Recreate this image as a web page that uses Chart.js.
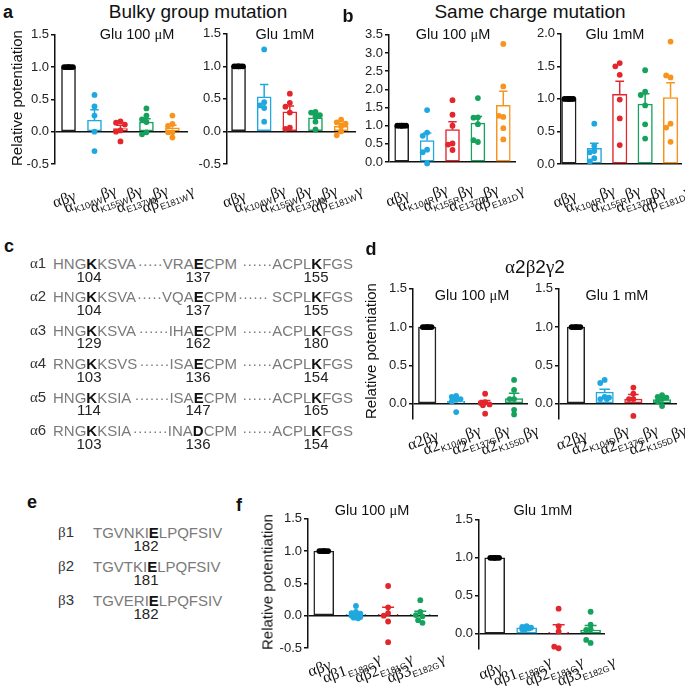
<!DOCTYPE html>
<html>
<head>
<meta charset="utf-8">
<script src="https://cdn.jsdelivr.net/npm/chart.js@4"></script>
<style>
body{margin:0;background:#fff;width:685px;height:693px;position:relative;overflow:hidden;font-family:'Liberation Sans',Arial,sans-serif;color:#111}
.t{position:absolute;white-space:nowrap}
.g{font-family:'Liberation Serif',serif}
canvas{position:absolute}
.seq{color:#7a7a7a;font-size:15px}
.seq b{color:#111}
</style>
</head>
<body>
<script>
// colours of the groups (control, then mutants)
const groupColors = ['#222222', '#1fa8e0', '#e3262c', '#15a25c', '#f7941d'];

// a - bulky group mutation
const bulkyLabels = [['αβγ'], ['α','K104W','βγ'], ['α','K155W','βγ'], ['α','E137W','βγ'], ['αβ','E181W','γ']];
const bulky100Mean = [1.0, 0.18, 0.05, 0.15, 0.06];
const bulky100Sem = [0, 0.16, 0.05, 0.05, 0.04];
const bulky100Pts = [
  [1, 1, 1, 1, 1, 1],
  [0.57, 0.39, 0.25, 0.0, -0.30],
  [0.16, 0.14, 0.11, 0.02, 0.0, -0.15],
  [0.36, 0.25, 0.19, 0.15, -0.01, -0.04],
  [0.25, 0.12, 0.09, -0.01, -0.01, -0.09]
];
const bulky1mMean = [1.0, 0.53, 0.30, 0.21, 0.08];
const bulky1mSem = [0, 0.19, 0.09, 0.05, 0.04];
const bulky1mPts = [
  [1, 1, 1, 1, 1, 1],
  [1.26, 0.45, 0.40, 0.36, 0.15],
  [0.58, 0.44, 0.38, 0.29, 0.06, 0.04],
  [0.30, 0.29, 0.25, 0.23, 0.15, 0.03],
  [0.18, 0.14, 0.12, 0.08, 0.0, -0.06]
];

// b - same charge mutation
const chargeLabels = [['αβγ'], ['α','K104R','βγ'], ['α','K155R','βγ'], ['α','E137D','βγ'], ['αβ','E181D','γ']];
const charge100Mean = [1.0, 0.59, 0.89, 1.07, 1.56];
const charge100Sem = [0, 0.21, 0.22, 0.18, 0.39];
const charge100Pts = [
  [1, 1, 1, 1, 1, 1],
  [1.43, 0.81, 0.72, 0.34, 0.27, -0.04],
  [1.70, 1.30, 1.00, 0.51, 0.48, 0.33],
  [1.76, 1.23, 1.22, 1.04, 0.55, 0.60],
  [3.25, 2.08, 1.24, 1.27, 0.93, 0.62]
];
const charge1mMean = [1.0, 0.24, 1.07, 0.92, 1.02];
const charge1mSem = [0, 0.08, 0.20, 0.16, 0.23];
const charge1mPts = [
  [1, 1, 1, 1, 1, 1],
  [0.62, 0.28, 0.20, 0.18, 0.09, 0.04],
  [1.55, 1.50, 1.37, 0.99, 0.70, 0.29],
  [1.44, 1.11, 1.06, 0.90, 0.61, 0.39],
  [1.88, 1.33, 1.36, 0.62, 0.56, 0.34]
];

// d - alpha2 beta2 gamma2
const a2Labels = [['α2βγ'], ['α2','K104D','βγ'], ['α2','E137G','βγ'], ['α2','K155D','βγ']];
const a2_100Mean = [1.0, 0.03, 0.0, 0.065];
const a2_100Sem = [0, 0.03, 0.04, 0.07];
const a2_100Pts = [
  [1, 1, 1, 1, 1, 1],
  [0.10, 0.09, 0.06, 0.05, 0.03, -0.11],
  [0.13, 0.02, 0.01, -0.01, -0.02, -0.13],
  [0.31, 0.18, 0.06, 0.06, -0.08, -0.14]
];
const a2_1mMean = [1.0, 0.15, 0.06, 0.055];
const a2_1mSem = [0, 0.04, 0.06, 0.02];
const a2_1mPts = [
  [1, 1, 1, 1, 1, 1],
  [0.31, 0.27, 0.09, 0.06, 0.08, 0.06],
  [0.21, 0.13, 0.06, 0.06, -0.16],
  [0.11, 0.09, 0.08, 0.06, 0.03, -0.03]
];

// f - beta subunit mutation
const betaLabels = [['αβγ'], ['αβ1','E182G','γ'], ['αβ2','E181G','γ'], ['αβ3','E182G','γ']];
const beta100Mean = [1.0, 0.02, 0.02, 0.02];
const beta100Sem = [0, 0.02, 0.11, 0.05];
const beta100Pts = [
  [1, 1, 1, 1, 1, 1],
  [0.15, 0.06, 0.04, 0.03, 0.01, 0.0, -0.02, -0.03, -0.04],
  [0.46, 0.13, 0.04, 0.0, -0.09, -0.41],
  [0.24, 0.06, 0.01, -0.01, -0.07, -0.11]
];
const beta1mMean = [1.0, 0.08, 0.02, 0.05];
const beta1mSem = [0, 0.01, 0.10, 0.06];
const beta1mPts = [
  [1, 1, 1, 1, 1, 1],
  [0.10, 0.09, 0.08, 0.08, 0.07, 0.07, 0.06, 0.05],
  [0.33, 0.10, 0.03, -0.19, -0.17],
  [0.29, 0.12, 0.06, 0.05, -0.12, -0.08]
];

// sequence alignments (c, e)
const alphaSeqs = [
  ['α1', 'HNG', 'K', 'KSVA', '·····VRA', 'E', 'CPM', '······ACPL', 'K', 'FGS', '104', '137', '155'],
  ['α2', 'HNG', 'K', 'KSVA', '·····VQA', 'E', 'CPM', '······ SCPL', 'K', 'FGS', '104', '137', '155'],
  ['α3', 'HNG', 'K', 'KSVA', '······IHA', 'E', 'CPM', '······ACPL', 'K', 'FGS', '129', '162', '180'],
  ['α4', 'RNG', 'K', 'KSVS', '······ISA', 'E', 'CPM', '······ACPL', 'K', 'FGS', '103', '136', '154'],
  ['α5', 'HNG', 'K', 'KSIA', '·······ISA', 'E', 'CPM', '······ACPL', 'K', 'FGS', '114', '147', '165'],
  ['α6', 'RNG', 'K', 'KSIA', '·······INA', 'D', 'CPM', '······ACPL', 'K', 'FGS', '103', '136', '154']
];
const betaSeqs = [
  ['β1', 'TGVNKI', 'E', 'LPQFSIV', '182'],
  ['β2', 'TGVTKI', 'E', 'LPQFSIV', '181'],
  ['β3', 'TGVERI', 'E', 'LPQFSIV', '182']
];

// ---------- helpers ----------
function place(html, x, y, style, anchor){
  const d = document.createElement('div');
  d.className = 't';
  d.innerHTML = html;
  d.style.left = x + 'px';
  d.style.top = y + 'px';
  d.style.transform = anchor || 'translate(-50%,-50%)';
  Object.assign(d.style, style || {});
  document.body.appendChild(d);
  return d;
}

// error bar (mean + SEM) drawn on top of the bars
const semBars = {
  id: 'semBars',
  afterDatasetDraw(chart, args){
    const ds = chart.data.datasets[args.index];
    if(!ds.sem) return;
    const ctx = chart.ctx, ys = chart.scales.y;
    ctx.save();
    ctx.lineWidth = 1.5;
    args.meta.data.forEach((bar, i) => {
      const s = ds.sem[i];
      if(!s) return;
      const top = ys.getPixelForValue(ds.data[i].y + s);
      const half = bar.width * 0.3;
      ctx.strokeStyle = ds.borderColor[i];
      ctx.beginPath();
      ctx.moveTo(bar.x, bar.y); ctx.lineTo(bar.x, top);
      ctx.moveTo(bar.x - half, top); ctx.lineTo(bar.x + half, top);
      ctx.stroke();
    });
    ctx.restore();
  }
};

// rotated category labels with subscripts
const subLabels = {
  id: 'subLabels',
  afterDraw(chart, args, opts){
    if(!opts.labels) return;
    const ctx = chart.ctx, xs = chart.scales.x;
    const mainFont = "16px 'Liberation Serif'";
    const subFont = "9px 'Liberation Sans'";
    opts.labels.forEach((parts, i) => {
      let w = 0;
      const segs = parts.map((t, k) => {
        const sub = k % 2 === 1;
        ctx.font = sub ? subFont : mainFont;
        const mw = ctx.measureText(t).width + (sub ? 1 : 0);
        w += mw;
        return { t, sub, mw };
      });
      ctx.save();
      ctx.translate(xs.getPixelForValue(i) + opts.dx, chart.chartArea.bottom + opts.dy);
      ctx.rotate(-opts.angle * Math.PI / 180);
      ctx.fillStyle = '#111';
      let x = -w / 2;
      segs.forEach(s => {
        ctx.font = s.sub ? subFont : mainFont;
        ctx.fillText(s.t, x + (s.sub ? 0.5 : 0), s.sub ? 7 : 4);
        x += s.mw;
      });
      ctx.restore();
    });
  }
};

// spread points sideways when they overlap (small beeswarm, in pixels)
function swarm(groups, pxX, pxY){
  const out = [];
  const cand = [0, -2.2, 2.2, -4.4, 4.4];
  groups.forEach((vals, g) => {
    const placed = [];
    vals.forEach(v => {
      let best = 0, bestD = -1;
      for(const o of cand){
        const d = placed.length ? Math.min(...placed.map(p => Math.hypot(p.o - o, (p.v - v) * pxY))) : 99;
        if(d >= 4.6){ best = o; bestD = d; break; }
        if(d > bestD){ best = o; bestD = d; }
      }
      placed.push({ o: best, v });
      out.push({ x: g + best / pxX, y: v, c: g });
    });
  });
  return out;
}

function makeChart(L, labels, means, sems, pts){
  const cv = document.createElement('canvas');
  const left = Math.round(L.axisX) - 40, top = Math.round(L.top) - 8;
  const w = Math.round(L.right - L.axisX) + 40 + 18;
  const h = Math.round(L.bottom - L.top) + 8 + 66;
  cv.width = w; cv.height = h;
  cv.style.left = left + 'px'; cv.style.top = top + 'px';
  document.body.appendChild(cv);

  const pxX = (L.right - L.axisX) / (L.xMax - L.xMin);
  const pxY = (L.bottom - L.top) / (L.yMax - L.yMin);
  const sw = swarm(pts, pxX, pxY);
  const cols = groupColors.slice(0, means.length);

  new Chart(cv, {
    type: 'bar',
    data: {
      datasets: [
        { type: 'bar', data: means.map((m, i) => ({ x: i, y: m })), sem: sems,
          backgroundColor: '#ffffff', borderColor: cols, borderWidth: 1.5, borderSkipped: false,
          barThickness: L.barW, order: 2 },
        { type: 'scatter', data: sw.map(p => ({ x: p.x, y: p.y })),
          pointBackgroundColor: sw.map(p => p.c === 0 ? '#000' : cols[p.c]),
          pointBorderWidth: 0, pointRadius: 2.9, clip: false, order: 1 }
      ]
    },
    options: {
      responsive: false,
      animation: false,
      layout: { padding: { top: 8, right: 18, bottom: 66, left: 0 } },
      plugins: {
        legend: { display: false },
        tooltip: { enabled: false },
        subLabels: { labels, dx: -4, dy: L.dy, angle: 20 }
      },
      scales: {
        x: { type: 'linear', min: L.xMin, max: L.xMax, display: false, offset: false,
             ticks: { stepSize: 1, includeBounds: false } },
        y: {
          min: L.yMin, max: L.yMax,
          afterFit: s => { s.width = 40; },
          border: { display: true, color: '#111', width: 1.5 },
          grid: {
            color: c => (c.tick && c.tick.value === 0) ? '#111' : 'rgba(0,0,0,0)',
            lineWidth: 1.5, tickLength: 4, tickColor: '#111', tickWidth: 1.5
          },
          ticks: { stepSize: 0.5, includeBounds: false, autoSkip: false, color: '#222', padding: 2,
                   font: { family: 'Liberation Sans', size: 13 },
                   callback: v => v.toFixed(1) }
        }
      }
    },
    plugins: [semBars, subLabels]
  });
}

// ---------- charts ----------
makeChart({axisX:55, right:188, top:33, bottom:164, yMin:-0.5, yMax:1.5, xMin:-0.52, xMax:4.6, barW:14, dy:36},
  bulkyLabels, bulky100Mean, bulky100Sem, bulky100Pts);
makeChart({axisX:227, right:356, top:32, bottom:164, yMin:-0.5, yMax:1.5, xMin:-0.45, xMax:4.58, barW:14, dy:36},
  bulkyLabels, bulky1mMean, bulky1mSem, bulky1mPts);
makeChart({axisX:389, right:516, top:33, bottom:162, yMin:0, yMax:3.5, xMin:-0.5, xMax:4.5, barW:14, dy:37},
  chargeLabels, charge100Mean, charge100Sem, charge100Pts);
makeChart({axisX:561, right:682, top:32, bottom:164, yMin:0, yMax:2.0, xMin:-0.31, xMax:4.45, barW:14.5, dy:36},
  chargeLabels, charge1mMean, charge1mSem, charge1mPts);
makeChart({axisX:413, right:528, top:287, bottom:419, yMin:-0.2, yMax:1.5, xMin:-0.49, xMax:3.48, barW:17.5, dy:22},
  a2Labels, a2_100Mean, a2_100Sem, a2_100Pts);
makeChart({axisX:559, right:677, top:287, bottom:419, yMin:-0.2, yMax:1.5, xMin:-0.59, xMax:3.52, barW:17.5, dy:22},
  a2Labels, a2_1mMean, a2_1mSem, a2_1mPts);
makeChart({axisX:308, right:438, top:517, bottom:648, yMin:-0.5, yMax:1.5, xMin:-0.49, xMax:3.55, barW:20, dy:21},
  betaLabels, beta100Mean, beta100Sem, beta100Pts);
makeChart({axisX:479, right:605, top:518, bottom:649, yMin:-0.2, yMax:1.5, xMin:-0.49, xMax:3.45, barW:20, dy:23},
  betaLabels, beta1mMean, beta1mSem, beta1mPts);

// ---------- titles and letters ----------
const bold = { fontWeight: 'bold', fontSize: '18px' };
place('a', 8, 12, bold);
place('b', 348, 16, bold);
place('c', 9, 246, bold);
place('d', 371, 249, bold);
place('e', 32, 502, bold);
place('f', 239, 505, bold);

place('Bulky group mutation', 198, 12, { fontSize: '19px' });
place('Same charge mutation', 530, 12, { fontSize: '19px' });
place('<span class="g">α</span>2<span class="g">β</span>2<span class="g">γ</span>2', 535, 267, { fontSize: '19px' });

const sub = { fontSize: '14.5px' };
place('Glu 100 <span class="g">μ</span>M', 137, 34, sub);
place('Glu 1mM', 285, 34, sub);
place('Glu 100 <span class="g">μ</span>M', 453, 34, sub);
place('Glu 1mM', 615, 34, sub);
place('Glu 100 <span class="g">μ</span>M', 472, 295, sub);
place('Glu 1 mM', 617, 295, sub);
place('Glu 100 <span class="g">μ</span>M', 372, 510, sub);
place('Glu 1mM', 543, 510, sub);

const ytitle = { fontSize: '15px' };
const rot = 'translate(-50%,-50%) rotate(-90deg)';
place('Relative potentiation', 16, 98, ytitle, rot);
place('Relative potentiation', 370, 351, ytitle, rot);
place('Relative potentiation', 267, 582, ytitle, rot);

// ---------- sequence panels ----------
const numStyle = { fontSize: '15px', color: '#222' };
alphaSeqs.forEach((r, i) => {
  const y = 263 + i * 33.4;
  place('<span class="g">α</span>' + r[0].slice(1), 30, y, { fontSize: '15px', color: '#333' }, 'translate(0,-50%)');
  const s1 = place(r[1] + '<b>' + r[2] + '</b>' + r[3], 53, y, {}, 'translate(0,-50%)');
  const s2 = place(r[4] + '<b>' + r[5] + '</b>' + r[6], 237, y, {}, 'translate(-100%,-50%)');
  const s3 = place(r[7] + '<b>' + r[8] + '</b>' + r[9], 353, y, {}, 'translate(-100%,-50%)');
  [s1, s2, s3].forEach(s => s.classList.add('seq'));
  place(r[10], 89, y + 12.5, numStyle);
  place(r[11], 198, y + 12.5, numStyle);
  place(r[12], 316, y + 12.5, numStyle);
});

betaSeqs.forEach((r, i) => {
  const y = 532 + i * 34.2;
  place('<span class="g">β</span>' + r[0].slice(1), 58, y, { fontSize: '15px', color: '#333' }, 'translate(0,-50%)');
  const s = place(r[1] + '<b>' + r[2] + '</b>' + r[3], 93, y, {}, 'translate(0,-50%)');
  s.classList.add('seq');
  place(r[4], 146, y + 13, numStyle);
});
</script>
</body>
</html>
